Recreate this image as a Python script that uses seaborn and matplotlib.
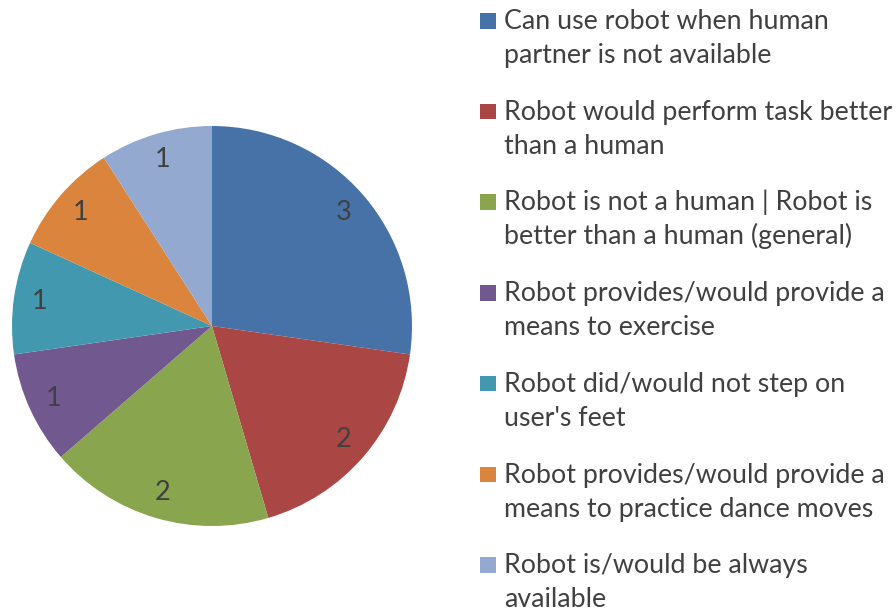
import matplotlib
matplotlib.use("Agg")
import matplotlib.pyplot as plt
import seaborn as sns
from matplotlib.patches import Rectangle

# Data
reasons = [
    "Can use robot when human\npartner is not available",
    "Robot would perform task better\nthan a human",
    "Robot is not a human | Robot is\nbetter than a human (general)",
    "Robot provides/would provide a\nmeans to exercise",
    "Robot did/would not step on\nuser's feet",
    "Robot provides/would provide a\nmeans to practice dance moves",
    "Robot is/would be always\navailable",
]
counts = [3, 2, 2, 1, 1, 1, 1]
hex_colors = ["#4672A8", "#AA4643", "#89A54E", "#71588F", "#4198AF", "#DB843D", "#93A9CF"]

sns.set_theme(style="white")
plt.rcParams["font.family"] = ["Lato", "DejaVu Sans"]
palette = sns.color_palette(hex_colors)
text_color = "#404040"

W, H = 896, 613
fig = plt.figure(figsize=(W / 100, H / 100), dpi=100)

# Pie: centre (212, 326), radius 200 px
ax = fig.add_axes([12 / W, 1 - 526 / H, 400 / W, 400 / H])
total = sum(counts)
wedges, _, autotexts = ax.pie(
    counts,
    colors=palette,
    startangle=90,
    counterclock=False,
    autopct=lambda p: f"{round(p * total / 100)}",
    pctdistance=0.87,
    textprops={"fontsize": 19.5, "color": text_color},
    wedgeprops={"linewidth": 0},
)
ax.set_aspect("equal")
ax.set_xlim(-1, 1)
ax.set_ylim(-1, 1)

# Legend, drawn by hand so the square sits beside the first line
for i, (label, color) in enumerate(zip(reasons, palette)):
    first, second = label.split("\n")
    y_top = 13 + 90.7 * i
    fig.patches.append(Rectangle((480 / W, 1 - (y_top + 15.5) / H), 16 / W, 15.5 / H,
                                 transform=fig.transFigure, facecolor=color,
                                 edgecolor="none"))
    fig.text(504 / W, 1 - (29 + 90.7 * i) / H, first,
             fontsize=19.3, color=text_color, va="baseline", ha="left")
    fig.text(504 / W, 1 - (63 + 90.7 * i) / H, second,
             fontsize=19.3, color=text_color, va="baseline", ha="left")

fig.savefig("out.png", dpi=100)
